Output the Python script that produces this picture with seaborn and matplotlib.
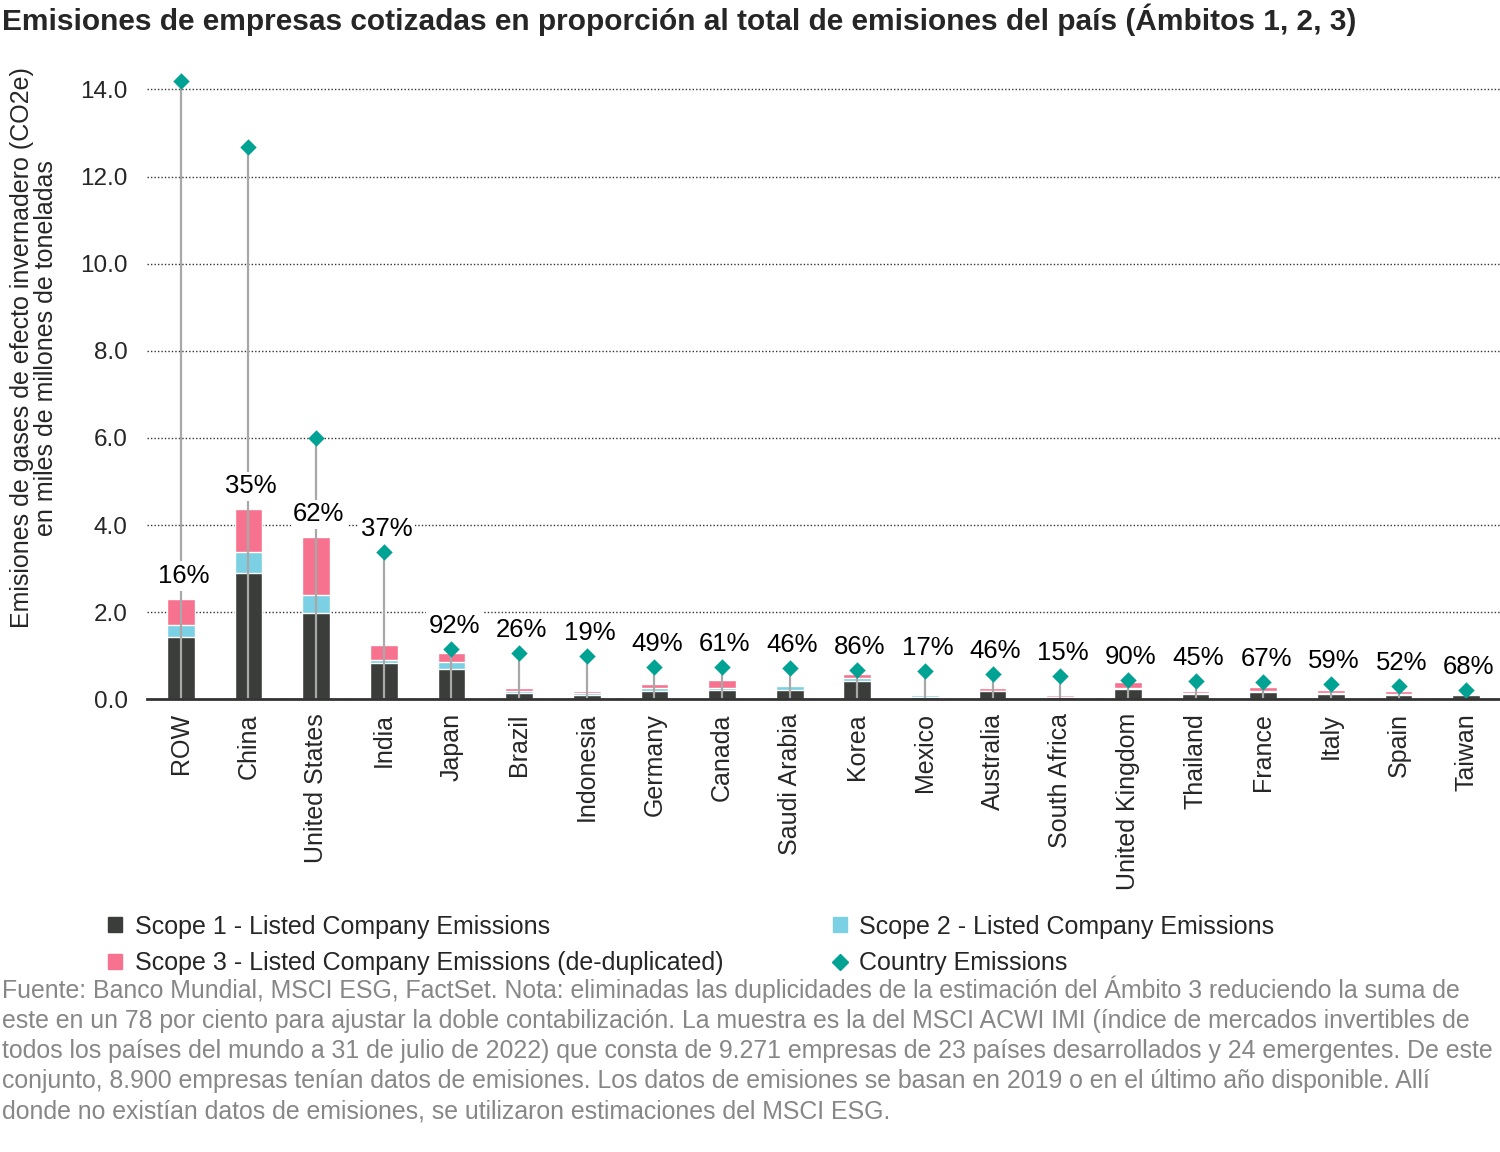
import matplotlib
matplotlib.use("Agg")
import matplotlib.pyplot as plt
import seaborn as sns
import numpy as np
import pandas as pd
from matplotlib.lines import Line2D
from matplotlib.patches import Patch

countries = ["ROW", "China", "United States", "India", "Japan", "Brazil", "Indonesia",
             "Germany", "Canada", "Saudi Arabia", "Korea", "Mexico", "Australia",
             "South Africa", "United Kingdom", "Thailand", "France", "Italy", "Spain", "Taiwan"]
scope1 = [1.42, 2.89, 1.97, 0.83, 0.69, 0.15, 0.10, 0.20, 0.22, 0.22, 0.42, 0.06, 0.18,
          0.05, 0.23, 0.12, 0.17, 0.13, 0.10, 0.09]
scope2 = [0.28, 0.48, 0.42, 0.07, 0.16, 0.03, 0.04, 0.07, 0.05, 0.08, 0.07, 0.03, 0.02,
          0.01, 0.02, 0.02, 0.02, 0.02, 0.02, 0.02]
scope3 = [0.60, 0.99, 1.33, 0.34, 0.21, 0.07, 0.04, 0.07, 0.17, 0.02, 0.09, 0.04, 0.07,
          0.03, 0.14, 0.06, 0.09, 0.07, 0.06, 0.04]
country_emis = [14.2, 12.67, 5.99, 3.37, 1.15, 1.06, 0.99, 0.73, 0.73, 0.71, 0.67, 0.64,
                0.57, 0.53, 0.44, 0.41, 0.39, 0.34, 0.30, 0.21]
pct_labels = ["16%", "35%", "62%", "37%", "92%", "26%", "19%", "49%", "61%", "46%", "86%",
              "17%", "46%", "15%", "90%", "45%", "67%", "59%", "52%", "68%"]

C1 = "#3b3d3b"
C2 = "#7bd0e3"
C3 = "#f7728f"
CC = "#00a393"
LINE = "#a8a8a8"

sns.set_theme(style="white")
plt.rcParams['font.family'] = ['Liberation Sans', 'DejaVu Sans']

df = pd.DataFrame({"country": countries, "s1": scope1, "s2": scope2, "s3": scope3,
                   "ce": country_emis, "pct": pct_labels})
df["c2"] = df["s1"] + df["s2"]
df["c3"] = df["c2"] + df["s3"]

fig = plt.figure(figsize=(15, 11.52), dpi=100)
ax = fig.add_axes([0.098, 0.393, 0.902, 0.552])

for y, col in (("c3", C3), ("c2", C2), ("s1", C1)):
    sns.barplot(data=df, x="country", y=y, color=col, width=0.41, ax=ax,
                saturation=1, zorder=2)

x = np.arange(len(countries))
ax.vlines(x, 0, df["ce"], color=LINE, lw=1.6, zorder=3)
ax.scatter(x, df["ce"], marker="D", s=70, color=CC, zorder=4, linewidths=0)

for i, row in df.iterrows():
    base = row["c3"] if row["ce"] > 5 else row["ce"]
    ax.annotate(row["pct"], (i, base), xytext=(2, 8), textcoords="offset points",
                ha="center", va="bottom", fontsize=18.5, color="black", zorder=5,
                bbox=dict(boxstyle="square,pad=0.1", fc="white", ec="none"))

ax.set_xlim(-0.5, len(countries) - 0.5)
ax.set_ylim(0, 14.6)
ax.set_yticks(np.arange(0, 14.01, 2))
ax.set_yticklabels([f"{v:.1f}" for v in np.arange(0, 14.01, 2)])
ax.yaxis.grid(True, linestyle=(0, (1, 1.5)), color="#333333", lw=1)
ax.set_axisbelow(True)
ax.tick_params(axis="y", length=0, pad=14, labelsize=17.5)
ax.tick_params(axis="x", length=0, pad=10, labelsize=18, rotation=90)
ax.set_xlabel("")
ax.set_ylabel("Emisiones de gases de efecto invernadero (CO2e)\nen miles de millones de toneladas",
              fontsize=18, linespacing=1.0)
ax.yaxis.set_label_coords(-0.066, 0.553)
for s in ("top", "right", "left"):
    ax.spines[s].set_visible(False)
ax.spines["bottom"].set_color("#333333")
ax.spines["bottom"].set_linewidth(2)
ax.spines["bottom"].set_zorder(6)

fig.text(0.001, 0.983, "Emisiones de empresas cotizadas en proporción al total de emisiones del país (Ámbitos 1, 2, 3)",
         fontsize=21.5, fontweight="bold", ha="left", va="center")

handles = [
    Patch(color=C1, label="Scope 1 - Listed Company Emissions"),
    Patch(color=C3, label="Scope 3 - Listed Company Emissions (de-duplicated)"),
    Patch(color=C2, label="Scope 2 - Listed Company Emissions"),
    Line2D([], [], marker="D", color=CC, lw=0, markersize=8, label="Country Emissions"),
]
fig.legend(handles=handles, ncol=2, loc="upper left", bbox_to_anchor=(0.0573, 0.2255),
           frameon=False, fontsize=18, handlelength=0.55, handleheight=0.55,
           handletextpad=0.5, columnspacing=4.4, labelspacing=0.5)

footer = ("Fuente: Banco Mundial, MSCI ESG, FactSet. Nota: eliminadas las duplicidades de la estimación del Ámbito 3 reduciendo la suma de\n"
          "este en un 78 por ciento para ajustar la doble contabilización. La muestra es la del MSCI ACWI IMI (índice de mercados invertibles de\n"
          "todos los países del mundo a 31 de julio de 2022) que consta de 9.271 empresas de 23 países desarrollados y 24 emergentes. De este\n"
          "conjunto, 8.900 empresas tenían datos de emisiones. Los datos de emisiones se basan en 2019 o en el último año disponible. Allí\n"
          "donde no existían datos de emisiones, se utilizaron estimaciones del MSCI ESG.")
fig.text(0.001, 0.1535, footer, fontsize=17.9, color="#878787", ha="left", va="top",
         linespacing=1.33)

fig.savefig("out.png", dpi=100)
